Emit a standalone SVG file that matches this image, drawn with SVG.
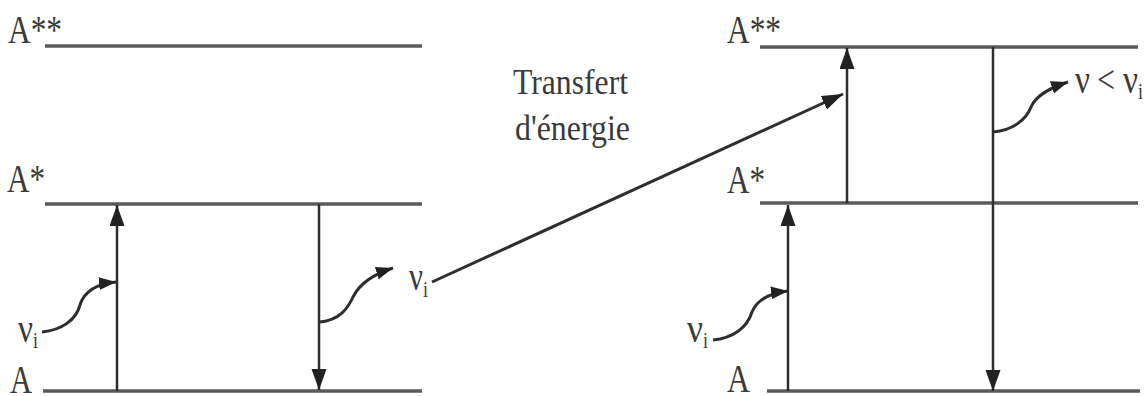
<svg xmlns="http://www.w3.org/2000/svg" width="1144" height="396" viewBox="0 0 1144 396">
<defs>
<style>
.lvl{stroke:#5a5a5a;stroke-width:3.5;fill:none}
.arr{stroke:#2e2e2e;stroke-width:2.5;fill:none}
.wav{stroke:#2e2e2e;stroke-width:3;fill:none}
.t{font-family:"Liberation Serif","Times New Roman",serif;fill:#3a3a3a;font-size:40px}
.s{font-family:"Liberation Serif","Times New Roman",serif;fill:#3a3a3a;font-size:24px}
.lab{font-family:"Liberation Serif","Times New Roman",serif;fill:#3a3a3a;font-size:36px}
</style>
<marker id="big" markerUnits="userSpaceOnUse" markerWidth="22" markerHeight="16" refX="21" refY="7.5" orient="auto"><path d="M0,0 L21,7.5 L0,15 z" fill="#222"/></marker>
<marker id="sm" markerUnits="userSpaceOnUse" markerWidth="18" markerHeight="14" refX="17" refY="6.5" orient="auto"><path d="M0,0 L17,6.5 L0,13 z" fill="#222"/></marker>
</defs>
<g id="levels-left">
<line class="lvl" x1="45" y1="46" x2="422" y2="46"/>
<line class="lvl" x1="45" y1="204" x2="422" y2="204"/>
<line class="lvl" x1="43" y1="391" x2="422" y2="391"/>
<text class="t" x="8" y="43" textLength="54" lengthAdjust="spacingAndGlyphs">A**</text>
<text class="t" x="7" y="192" textLength="38" lengthAdjust="spacingAndGlyphs">A*</text>
<text class="t" x="10" y="393" textLength="22" lengthAdjust="spacingAndGlyphs">A</text>
</g>
<g id="levels-right">
<line class="lvl" x1="760" y1="47" x2="1138" y2="47"/>
<line class="lvl" x1="760" y1="203" x2="1138" y2="203"/>
<line class="lvl" x1="767" y1="391" x2="1140" y2="391"/>
<text class="t" x="727" y="43" textLength="54" lengthAdjust="spacingAndGlyphs">A**</text>
<text class="t" x="727" y="193" textLength="38" lengthAdjust="spacingAndGlyphs">A*</text>
<text class="t" x="727" y="392" textLength="23" lengthAdjust="spacingAndGlyphs">A</text>
</g>
<g id="labels">
<text class="t" x="18" y="342" textLength="15" lengthAdjust="spacingAndGlyphs">ν</text>
<text class="s" x="33" y="348" textLength="5" lengthAdjust="spacingAndGlyphs">i</text>
<text class="t" x="409" y="290" textLength="14" lengthAdjust="spacingAndGlyphs">ν</text>
<text class="s" x="423" y="297" textLength="5" lengthAdjust="spacingAndGlyphs">i</text>
<text class="t" x="687" y="342" textLength="16" lengthAdjust="spacingAndGlyphs">ν</text>
<text class="s" x="703" y="348" textLength="5" lengthAdjust="spacingAndGlyphs">i</text>
<text class="t" x="1075" y="93" textLength="15" lengthAdjust="spacingAndGlyphs">ν</text>
<text class="t" x="1097" y="93" textLength="18" lengthAdjust="spacingAndGlyphs">&lt;</text>
<text class="t" x="1123" y="93" textLength="15" lengthAdjust="spacingAndGlyphs">ν</text>
<text class="s" x="1138" y="99" textLength="5" lengthAdjust="spacingAndGlyphs">i</text>
<text class="lab" x="513" y="94" textLength="115" lengthAdjust="spacingAndGlyphs">Transfert</text>
<text class="lab" x="515" y="140" textLength="115" lengthAdjust="spacingAndGlyphs">d'énergie</text>
</g>
<g id="connectors">
<line class="arr" x1="117" y1="391" x2="117" y2="205" marker-end="url(#big)"/>
<line class="arr" x1="319" y1="204" x2="319" y2="390" marker-end="url(#big)"/>
<line class="arr" x1="788" y1="391" x2="788" y2="205" marker-end="url(#big)"/>
<line class="arr" x1="847" y1="203" x2="847" y2="48" marker-end="url(#big)"/>
<line class="arr" x1="993" y1="47" x2="993" y2="391" marker-end="url(#big)"/>
<line class="wav" x1="432" y1="282" x2="843" y2="94" marker-end="url(#big)"/>
<path class="wav" d="M42,332 C62,330 76,320 80,305 C84,292 95,284 116,282" marker-end="url(#sm)"/>
<path class="wav" d="M320,322 C340,320 348,308 353,297 C360,283 374,274 393,268" marker-end="url(#sm)"/>
<path class="wav" d="M713,340 C733,338 747,328 752,312 C757,300 770,293 788,291" marker-end="url(#sm)"/>
<path class="wav" d="M993,132 C1013,130 1026,120 1031,107 C1036,95 1050,88 1068,82" marker-end="url(#sm)"/>
</g>
</svg>
